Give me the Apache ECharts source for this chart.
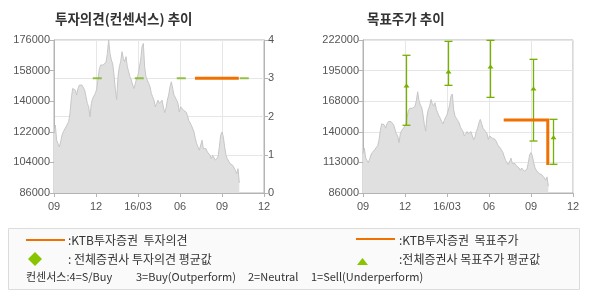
<!DOCTYPE html>
<html><head><meta charset="utf-8">
<script src="https://cdn.jsdelivr.net/npm/echarts@6/dist/echarts.min.js"></script>
<style>html,body{margin:0;padding:0;background:#fff}#c{width:590px;height:300px}</style>
</head><body><div id="c"></div>
<script>
// x axis: months since 2015-09
const xTickLabels = ['09', '12', '16/03', '06', '09', '12'];
const priceStep = 4 / 42; // months between samples
const prices = [
121000,125900,117000,115000,113100,116100,120000,122000,123000,124900,
125900,128000,133000,141600,147500,148500,146500,143600,147500,149500,
150500,149500,148500,146500,142600,138700,136700,130800,138700,141600,
142600,144600,147000,153000,159000,161300,160300,161300,160300,163000,
168000,176000,168100,164200,162200,155400,147000,141000,154400,160300,
163200,169100,165200,163200,166200,160300,157300,154400,152400,149500,
147500,150500,153400,155400,156400,164200,172100,174000,160000,154400,
152400,150500,148500,144600,142600,140600,136700,138700,140600,138700,
139700,140600,136700,133300,135800,140600,143600,148500,151400,147500,
143600,142600,140600,138700,133700,136700,135700,134700,134700,133700,
131800,128800,127800,125900,124900,121900,118000,115000,113100,111200,
112100,117000,112100,113100,112100,110200,111200,108200,106200,108200,
107200,105300,104300,107200,113100,120000,121900,119000,113100,108200,
106200,105300,103300,104300,102300,101300,99400,97400,100300,92000
];
// consensus opinion (all brokers average)
const consensusX = [3.09, 6.09, 9.09, 13.59];
const consensusVal = [3, 3, 3, 3];
// KTB opinion
const ktbOpinionX = [10.07, 13.2];
const ktbOpinionVal = [3, 3];
// KTB target price
const ktbTargetX = [10.05, 13.2, 13.2];
const ktbTargetVal = [151000, 151000, 111000];
// all brokers target price range
const targetX = [3.07, 6.07, 9.07, 12.14, 13.57];
const targetLow = [146200, 181700, 171000, 132200, 111500];
const targetAvg = [181100, 193600, 198000, 178400, 135200];
const targetHigh = [208400, 220800, 221700, 204800, 151500];
// legend footnote parts
const footParts = ['컨센서스:4=S/Buy', '3=Buy(Outperform)', '2=Neutral', '1=Sell(Underperform)'];

const ORANGE = '#f07000', GREEN = '#76b000';
const AX = '#b4b4b4', SPLIT = '#e6e6e6', LBL = '#555';
const NUMFONT = '"Liberation Sans", Arial, sans-serif';
const KFONT = '"Noto Sans CJK KR", sans-serif';

const priceData = prices.map((v, i) => [i * priceStep, v]);

function xAxis(gi) {
  return {
    type: 'value', gridIndex: gi, min: 0, max: 15, interval: 3,
    axisLine: { show: true, lineStyle: { color: AX } },
    axisTick: { show: true, length: 4, lineStyle: { color: AX } },
    axisLabel: { color: LBL, fontSize: 11, fontFamily: NUMFONT, margin: 8,
      formatter: v => xTickLabels[Math.round(v / 3)] },
    splitLine: { show: true, lineStyle: { color: SPLIT } }
  };
}
function yAxis(gi, min, max, interval, pos, split, fmt) {
  return {
    type: 'value', gridIndex: gi, min, max, interval, position: pos,
    axisLine: { show: true, lineStyle: { color: AX } },
    axisTick: { show: true, length: 4, lineStyle: { color: AX } },
    axisLabel: { color: LBL, fontSize: 11, fontFamily: NUMFONT, margin: 4, formatter: fmt },
    splitLine: { show: split, lineStyle: { color: SPLIT } }
  };
}

const footX = [26, 136, 248, 311];
const footGraphics = footParts.map((t, i) => ({
  type: 'text', x: footX[i], y: 277,
  style: { text: t, font: '11px ' + KFONT, fill: '#333', verticalAlign: 'middle' }
}));

const chart = echarts.init(document.getElementById('c'), null, { renderer: 'canvas' });
chart.setOption({
  animation: false,
  backgroundColor: '#fff',
  grid: [
    { left: 54, top: 40, width: 210, height: 153, show: true, borderColor: AX, borderWidth: 1, backgroundColor: 'transparent' },
    { left: 363, top: 40, width: 210, height: 153, show: true, borderColor: AX, borderWidth: 1, backgroundColor: 'transparent' }
  ],
  xAxis: [xAxis(0), xAxis(1)],
  yAxis: [
    yAxis(0, 86000, 176000, 18000, 'left', false, v => String(v)),
    yAxis(0, 0, 4, 1, 'right', true, v => String(v)),
    yAxis(1, 86000, 222000, 27200, 'left', true, v => String(Math.round(v / 1000) * 1000))
  ],
  series: [
    { type: 'line', xAxisIndex: 0, yAxisIndex: 0, data: priceData, showSymbol: false, z: 1,
      lineStyle: { color: '#c6c6c6', width: 1 }, areaStyle: { color: '#e0e0e0', opacity: 1, origin: 'start' } },
    { type: 'scatter', xAxisIndex: 0, yAxisIndex: 1, z: 3,
      data: consensusX.map((x, i) => [x, consensusVal[i]]),
      symbol: 'rect', symbolSize: [9, 2], itemStyle: { color: '#7cb518' } },
    { type: 'line', xAxisIndex: 0, yAxisIndex: 1, z: 4, showSymbol: false,
      data: ktbOpinionX.map((x, i) => [x, ktbOpinionVal[i]]),
      lineStyle: { color: ORANGE, width: 3 } },
    { type: 'line', xAxisIndex: 1, yAxisIndex: 2, data: priceData, showSymbol: false, z: 1,
      lineStyle: { color: '#c6c6c6', width: 1 }, areaStyle: { color: '#e0e0e0', opacity: 1, origin: 'start' } },
    { type: 'line', xAxisIndex: 1, yAxisIndex: 2, z: 4, showSymbol: false,
      data: ktbTargetX.map((x, i) => [x, ktbTargetVal[i]]),
      lineStyle: { color: ORANGE, width: 3, cap: 'butt', join: 'miter' } },
    { type: 'custom', xAxisIndex: 1, yAxisIndex: 2, z: 3,
      data: targetX.map((x, i) => [x, targetLow[i], targetAvg[i], targetHigh[i]]),
      encode: { x: 0, y: [1, 2, 3] },
      renderItem: function (params, api) {
        const x = api.value(0);
        const lo = api.coord([x, api.value(1)]);
        const mid = api.coord([x, api.value(2)]);
        const hi = api.coord([x, api.value(3)]);
        const px = Math.round(lo[0]) + 0.5;
        const hw = 4;
        const st = { stroke: GREEN, lineWidth: 1.3 };
        return { type: 'group', children: [
          { type: 'line', shape: { x1: px, y1: lo[1], x2: px, y2: hi[1] }, style: st },
          { type: 'line', shape: { x1: px - hw, y1: lo[1], x2: px + hw, y2: lo[1] }, style: st },
          { type: 'line', shape: { x1: px - hw, y1: hi[1], x2: px + hw, y2: hi[1] }, style: st },
          { type: 'polygon', shape: { points: [[px - 3, mid[1] + 1.5], [px + 3, mid[1] + 1.5], [px, mid[1] - 2.5]] }, style: { fill: GREEN } }
        ] };
      }
    }
  ],
  graphic: [
    { type: 'text', left: 55, top: 12, style: { text: '투자의견(컨센서스) 추이', font: 'bold 13.5px ' + KFONT, fill: '#333' } },
    { type: 'text', left: 367, top: 12, style: { text: '목표주가 추이', font: 'bold 13.5px ' + KFONT, fill: '#333' } },
    { type: 'rect', shape: { x: 8.5, y: 228.5, width: 571, height: 61 }, style: { fill: '#fafafa', stroke: '#dcdcdc', lineWidth: 1 } },
    { type: 'line', shape: { x1: 26, y1: 240, x2: 65, y2: 240 }, style: { stroke: ORANGE, lineWidth: 2 } },
    { type: 'text', x: 68, y: 240, style: { text: ':KTB투자증권  투자의견', font: '12px ' + KFONT, fill: '#333', verticalAlign: 'middle' } },
    { type: 'polygon', shape: { points: [[35, 252], [42, 259], [35, 266], [28, 259]] }, style: { fill: '#88c400' } },
    { type: 'text', x: 68, y: 259, style: { text: ': 전체증권사 투자의견 평균값', font: '12px ' + KFONT, fill: '#333', verticalAlign: 'middle' } },
    ...footGraphics,
    { type: 'line', shape: { x1: 356, y1: 239, x2: 395, y2: 239 }, style: { stroke: ORANGE, lineWidth: 2 } },
    { type: 'text', x: 399, y: 240, style: { text: ':KTB투자증권  목표주가', font: '12px ' + KFONT, fill: '#333', verticalAlign: 'middle' } },
    { type: 'polygon', shape: { points: [[357, 265], [368, 265], [362.5, 258]] }, style: { fill: '#88c400' } },
    { type: 'text', x: 399, y: 259, style: { text: ':전체증권사 목표주가 평균값', font: '12px ' + KFONT, fill: '#333', verticalAlign: 'middle' } }
  ]
});
</script>
</body></html>
